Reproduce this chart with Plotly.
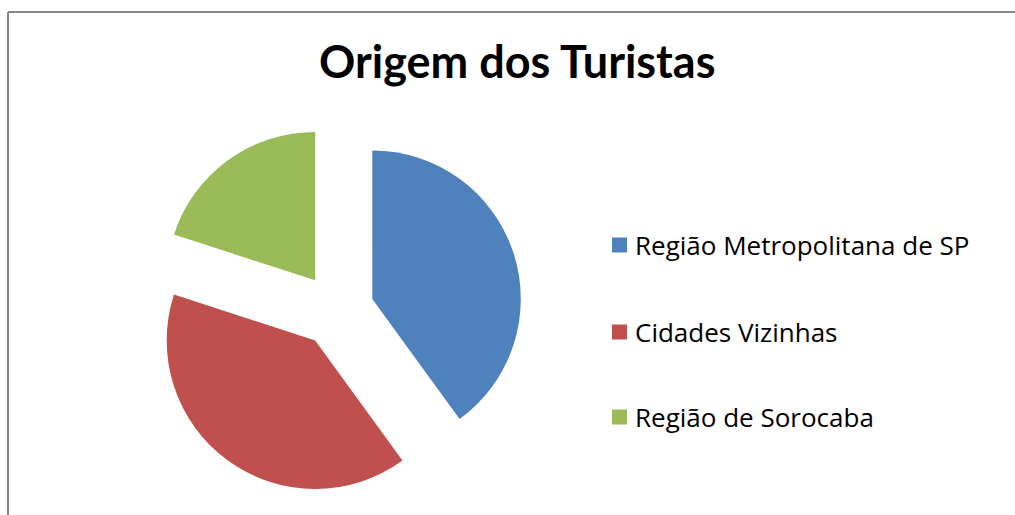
import plotly.graph_objects as go

categories = ["Região Metropolitana de SP", "Cidades Vizinhas", "Região de Sorocaba"]
values = [40, 40, 20]
colors = ["#4F81BD", "#C0504D", "#9BBB59"]
title_text = "Origem dos Turistas"

W, H = 1015, 515

fig = go.Figure()
fig.add_trace(go.Pie(
    labels=categories,
    values=values,
    marker=dict(colors=colors, line=dict(width=0)),
    sort=False,
    direction="clockwise",
    rotation=0,
    pull=[0.25, 0.25, 0.25],
    textinfo="none",
    hoverinfo="label+percent",
    showlegend=False,
    domain=dict(x=[151.4 / W, 522.6 / W], y=[1 - 496.0 / H, 1 - 124.8 / H]),
))

annotations = [dict(
    text=title_text, x=516.5 / W, y=1 - 61 / H, xref="paper", yref="paper",
    xanchor="center", yanchor="middle", showarrow=False,
    font=dict(family="Lato", size=45, color="#000000", weight="bold"),
)]
shapes = []
legend_y = [245, 332, 417]
for cat, col, yy in zip(categories, colors, legend_y):
    annotations.append(dict(
        text=cat, x=633 / W, y=1 - yy / H, xref="paper", yref="paper",
        xanchor="left", yanchor="middle", showarrow=False,
        font=dict(family="Open Sans", size=26, color="#000000"),
    ))
    shapes.append(dict(
        type="rect", xref="paper", yref="paper",
        x0=612 / W, x1=627 / W, y0=1 - (yy + 7.5) / H, y1=1 - (yy - 7.5) / H,
        fillcolor=col, line=dict(width=0),
    ))

# chart frame (left and top edges visible)
shapes.append(dict(type="line", xref="paper", yref="paper",
                   x0=8 / W, x1=8 / W, y0=0, y1=1 - 12 / H,
                   line=dict(color="#868686", width=2)))
shapes.append(dict(type="line", xref="paper", yref="paper",
                   x0=8 / W, x1=1, y0=1 - 12 / H, y1=1 - 12 / H,
                   line=dict(color="#868686", width=2)))

fig.update_layout(
    width=W, height=H,
    margin=dict(l=0, r=0, t=0, b=0),
    paper_bgcolor="#FFFFFF",
    plot_bgcolor="#FFFFFF",
    annotations=annotations,
    shapes=shapes,
    showlegend=False,
)

fig.write_html("out.html", config={"displayModeBar": False},
               post_script="document.body.style.margin='0';document.body.style.overflow='hidden';")
